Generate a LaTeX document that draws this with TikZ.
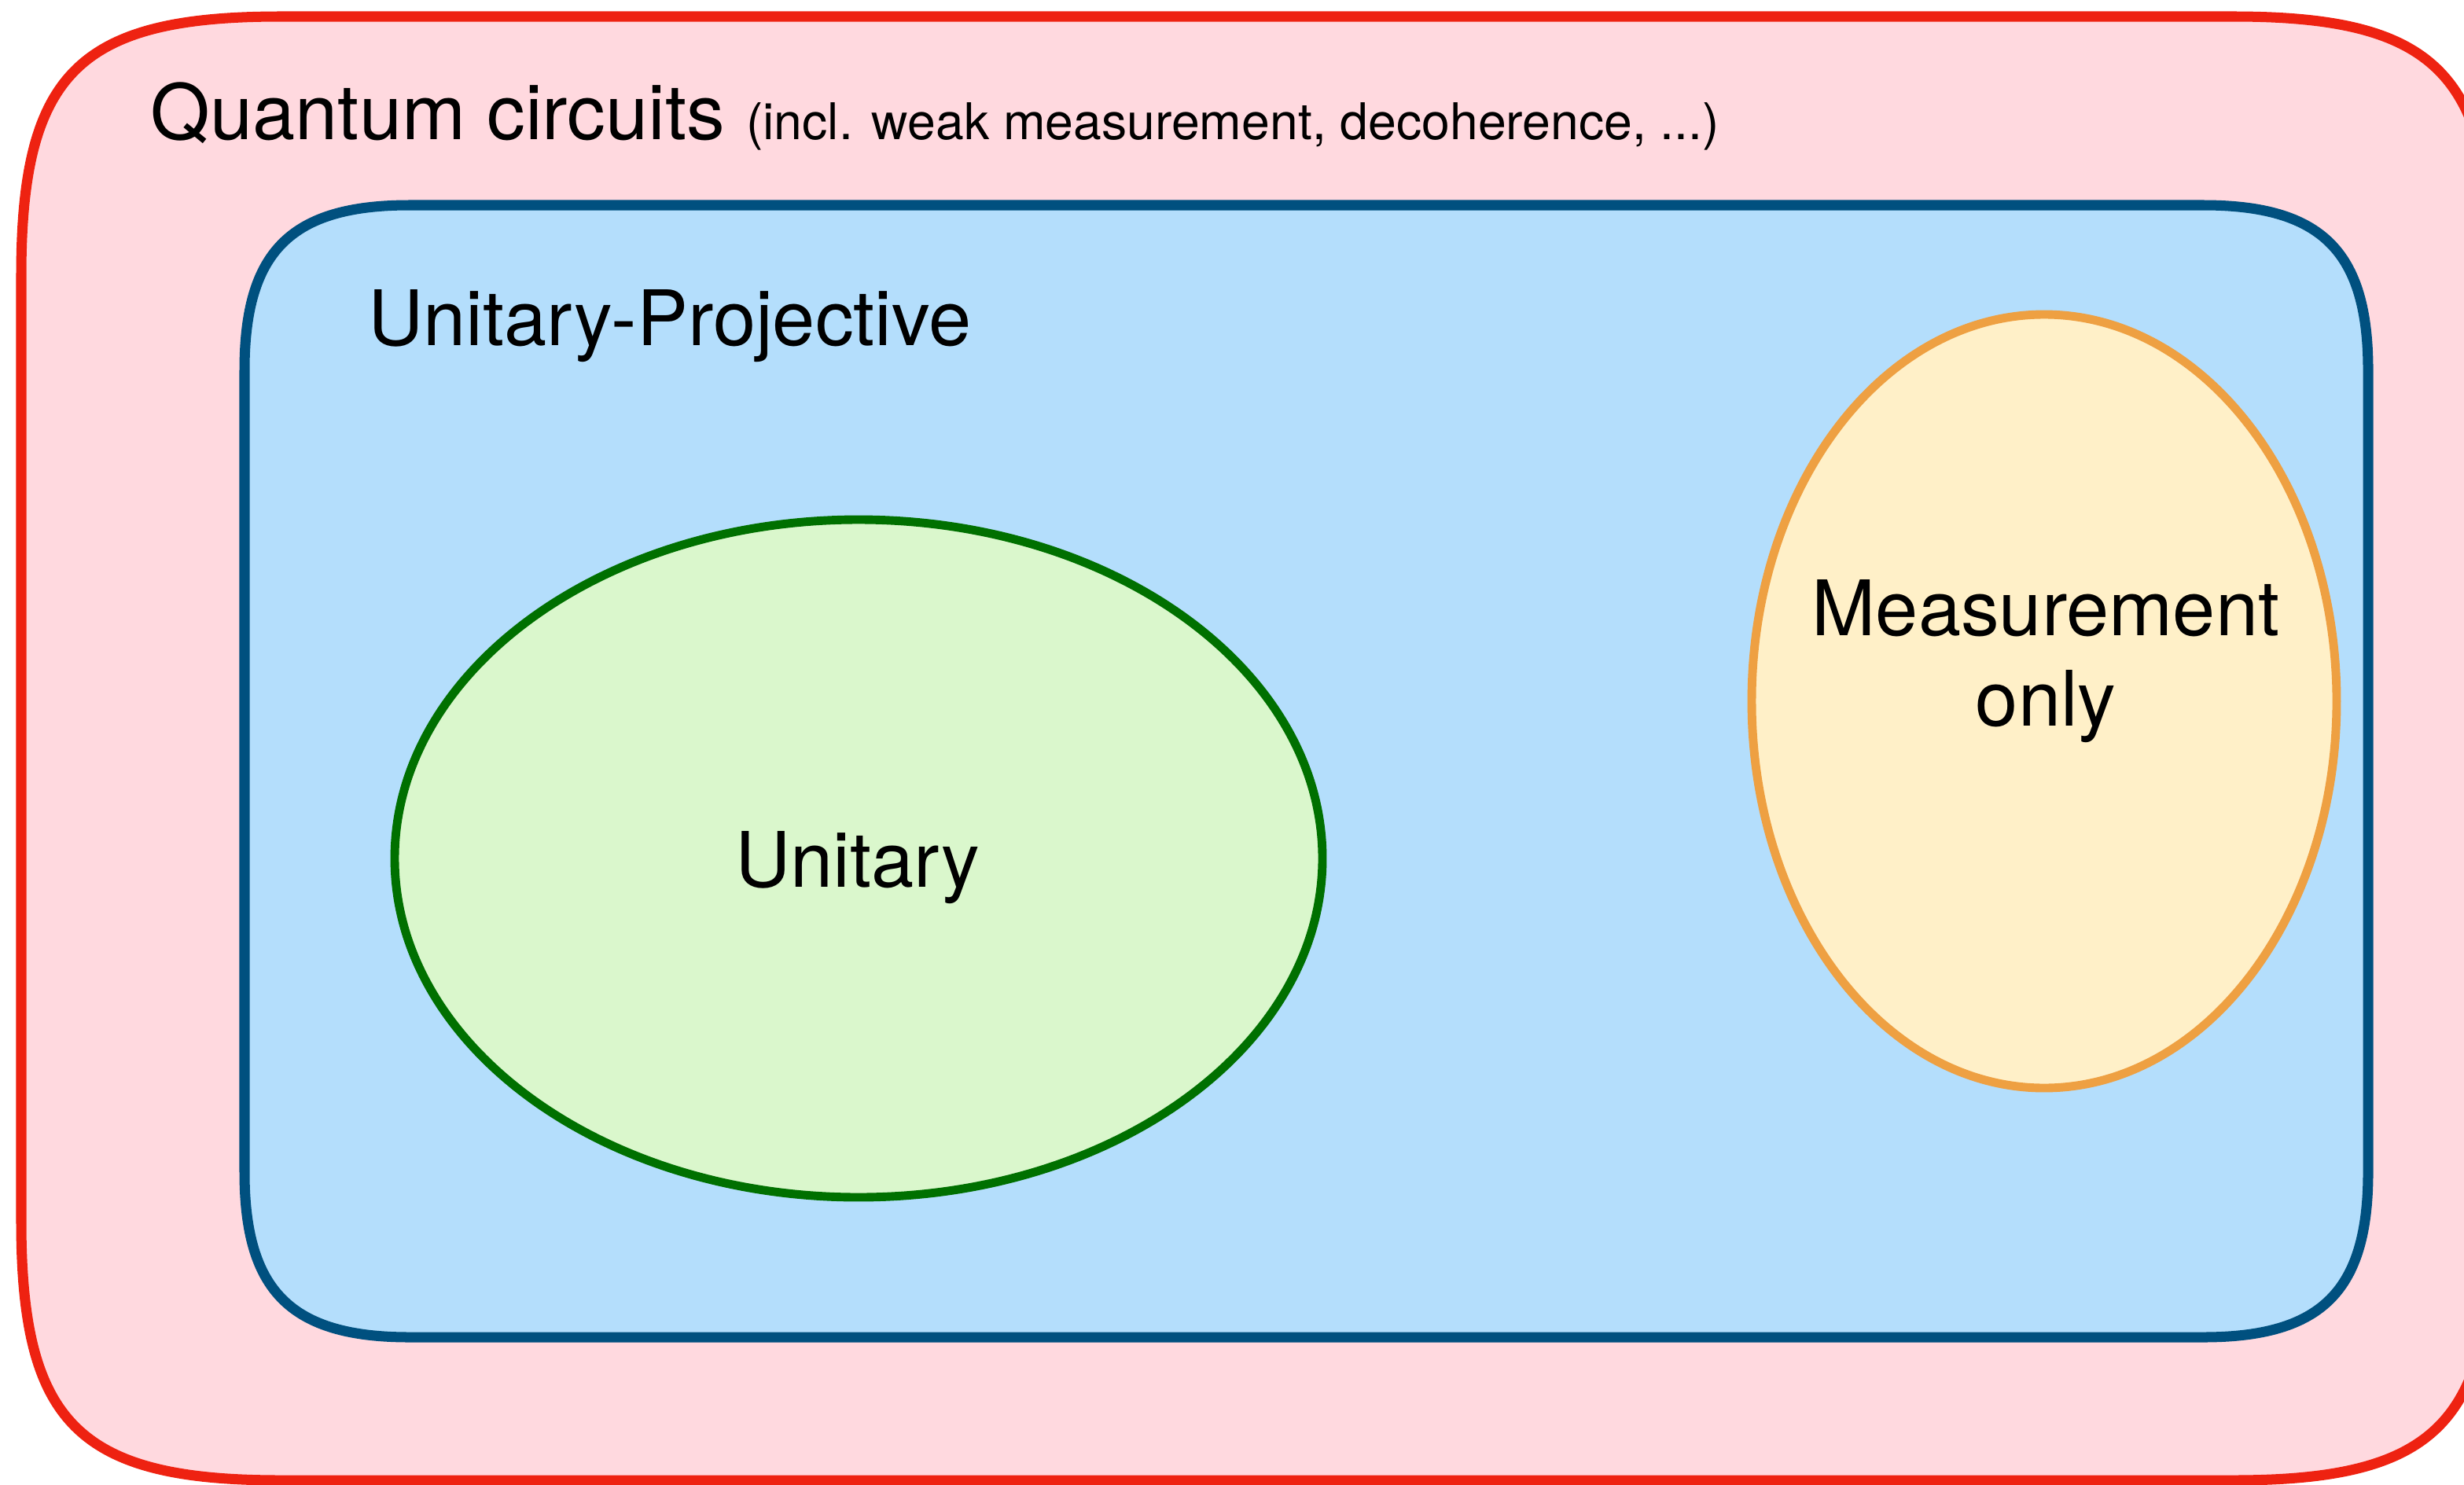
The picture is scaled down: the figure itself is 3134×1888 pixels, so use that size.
\documentclass[tikz,border=0pt]{standalone}
\usepackage{fontspec}
\setmainfont{TeX Gyre Heros}

\definecolor{circFill}{HTML}{FFD9DF}
\definecolor{circLine}{HTML}{EE2211}
\definecolor{projFill}{HTML}{B4DEFC}
\definecolor{projLine}{HTML}{00507F}
\definecolor{unitFill}{HTML}{DAF7CC}
\definecolor{unitLine}{HTML}{007000}
\definecolor{measFill}{HTML}{FFF0C8}
\definecolor{measLine}{HTML}{EEA042}

% box with smooth (squircle-like) corners:
% #1 style, #2,#3 top-left, #4,#5 bottom-right, #6 corner extent, #7 handle factor
\newcommand\softbox[7]{%
  \path[#1] (#2,{#3+#6}) -- (#2,{#5-#6})
    .. controls (#2,{#5-#6+#6*#7}) and ({#2+#6-#6*#7},#5) .. ({#2+#6},#5)
    -- ({#4-#6},#5)
    .. controls ({#4-#6+#6*#7},#5) and (#4,{#5-#6+#6*#7}) .. (#4,{#5-#6})
    -- (#4,{#3+#6})
    .. controls (#4,{#3+#6-#6*#7}) and ({#4-#6+#6*#7},#3) .. ({#4-#6},#3)
    -- ({#2+#6},#3)
    .. controls ({#2+#6-#6*#7},#3) and (#2,{#3+#6-#6*#7}) .. (#2,{#3+#6})
    -- cycle;}

\tikzset{
  bigtext/.style={inner sep=0pt, font=\fontsize{27.7}{33}\selectfont},
  circbox/.style={fill=circFill, draw=circLine, line width=3.7pt, line join=round},
  projbox/.style={fill=projFill, draw=projLine, line width=3.7pt, line join=round},
  unitset/.style={fill=unitFill, draw=unitLine, line width=3.1pt},
  measset/.style={fill=measFill, draw=measLine, line width=3.1pt},
}

\begin{document}
\begin{tikzpicture}[x=0.01cm, y=-0.01cm]
  \useasboundingbox (0,0) rectangle (3134,1888);
  \clip (0,0) rectangle (3134,1888);

  % outer region: all quantum circuits
  \softbox{circbox}{27}{21}{3170}{1883}{330}{0.78}
  \node[bigtext, anchor=base west] (qc) at (191,177)
    {Quantum circuits {\fontsize{18.3}{22}\selectfont(incl. weak measurement, decoherence, ...)}};

  % unitary-projective region
  \softbox{projbox}{311}{261}{3012}{1701}{210}{0.72}
  \node[bigtext, anchor=base west] (up) at (468,439) {Unitary-Projective};

  % unitary circuits
  \draw[unitset] (1092,1092) ellipse [x radius=590, y radius=431];
  \node[bigtext, anchor=base] (unitary) at (1091,1128) {Unitary};

  % measurement-only circuits
  \draw[measset] (2600,892) ellipse [x radius=372, y radius=492];
  \node[bigtext, anchor=base] (meas) at (2602,808) {Measurement};
  \node[bigtext, anchor=base] (only) at (2602,923) {only};
\end{tikzpicture}
\end{document}
